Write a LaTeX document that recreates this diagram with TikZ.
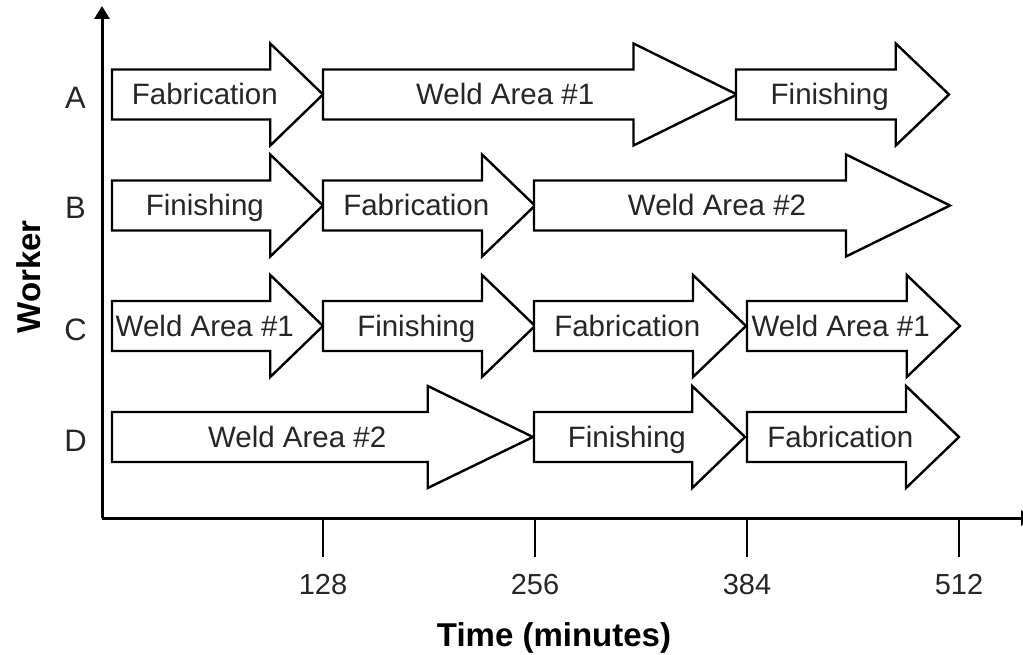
\documentclass[tikz,border=0pt]{standalone}
\usepackage{fontspec}
\setmainfont{Liberation Sans}
\usetikzlibrary{arrows.meta}
\tikzset{
  garrowline/.style={draw=black, line width=2.4pt, fill=white, line join=miter},
  gtext/.style={anchor=base, inner sep=0pt, font=\fontsize{29.5}{32}\selectfont, text=black!85},
  rowlabel/.style={anchor=base, inner sep=0pt, font=\fontsize{31}{34}\selectfont, text=black!85},
  ticklabel/.style={anchor=base, inner sep=0pt, font=\fontsize{29}{31}\selectfont, text=black!85},
  axistitle/.style={anchor=base, inner sep=0pt, font=\fontsize{33}{36}\selectfont\bfseries, text=black},
  axisline/.style={line width=3pt, -{Triangle[length=13pt,width=15pt]}},
  tickline/.style={line width=2pt}
}
\newcommand\garrow[5]{%
  \pgfmathsetmacro\gL{#3-#2}%
  \pgfmathsetmacro\gH{#3-0.25*\gL}%
  \pgfmathsetmacro\gT{#2+0.44*\gL}%
  \draw[garrowline] (#2,#4-25) -- (\gH,#4-25) -- (\gH,#4-51) -- (#3,#4) -- (\gH,#4+51) -- (\gH,#4+25) -- (#2,#4+25) -- cycle;
  \node[gtext] (#1) at (\gT,#4+10.5) {#5};
}
\begin{document}
\begin{tikzpicture}[x=1pt,y=-1pt]
\useasboundingbox (0,0) rectangle (1023,655);
\clip (0,0) rectangle (1023,655);
% axes
\coordinate (origin) at (102,518);
\coordinate (ytop) at (102,6);
\coordinate (xend) at (1034,518);
\draw[axisline] (origin) -- (ytop);
\draw[axisline] (origin) -- (xend);
% ticks
\foreach \xx/\lab/\nm in {323/128/t1, 535/256/t2, 747/384/t3, 959/512/t4}{
  \coordinate (\nm a) at (\xx,518);
  \coordinate (\nm b) at (\xx,557);
  \draw[tickline] (\nm a) -- (\nm b);
  \node[ticklabel] (\nm) at (\xx,594) {\lab};
}
% axis titles
\node[axistitle] (xtitle) at (554,646) {Time (minutes)};
\node[axistitle, rotate=90] (ytitle) at (40,277) {Worker};
% row labels
\node[rowlabel] (labA) at (75.5,108.5) {A};
\node[rowlabel] (labB) at (75.5,219) {B};
\node[rowlabel] (labC) at (75.5,340) {C};
\node[rowlabel] (labD) at (75.5,451) {D};
% row A
\garrow{a1}{112}{323}{94.5}{Fabrication}
\garrow{a2}{323}{737}{94.5}{Weld Area \#1}
\garrow{a3}{736}{949}{94.5}{Finishing}
% row B
\garrow{b1}{112}{323}{205.5}{Finishing}
\garrow{b2}{323}{535}{205.5}{Fabrication}
\garrow{b3}{534}{950}{205.5}{Weld Area \#2}
% row C
\garrow{c1}{112}{323}{326}{Weld Area \#1}
\garrow{c2}{323}{535}{326}{Finishing}
\garrow{c3}{534}{746}{326}{Fabrication}
\garrow{c4}{747}{960}{326}{Weld Area \#1}
% row D
\garrow{d1}{112}{533}{437}{Weld Area \#2}
\garrow{d2}{534}{745}{437}{Finishing}
\garrow{d3}{747}{959}{437}{Fabrication}
\end{tikzpicture}
\end{document}
